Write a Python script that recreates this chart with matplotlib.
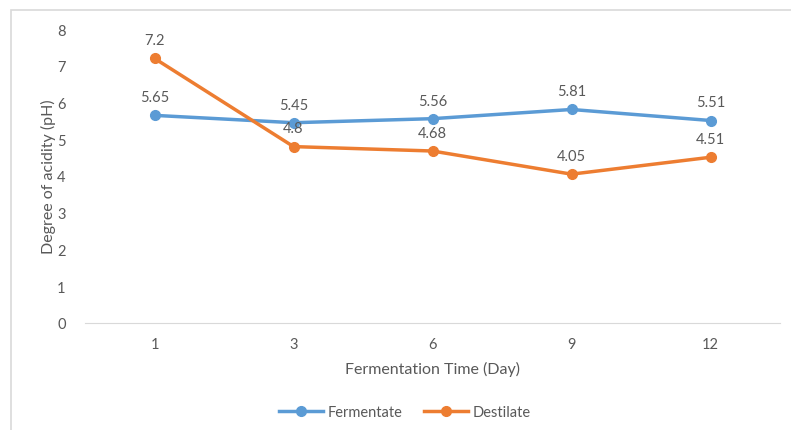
import matplotlib.pyplot as plt
from matplotlib.patches import Rectangle
from matplotlib.lines import Line2D

plt.rcParams['font.family'] = ['Lato', 'DejaVu Sans']

# Data
days = ['1', '3', '6', '9', '12']
fermentate = [5.65, 5.45, 5.56, 5.81, 5.51]
destilate = [7.2, 4.8, 4.68, 4.05, 4.51]

blue = '#5B9BD5'
orange = '#ED7D31'
text_col = '#595959'

fig = plt.figure(figsize=(7.91, 4.31), dpi=100)
ax = fig.add_axes([85 / 791, (431 - 324) / 431, 695 / 791, 294 / 431])

# chart frame (cropped on right and bottom)
fig.patches.append(Rectangle((11 / 791, -0.05), 1.2, (431 - 11) / 431 + 0.05,
                             transform=fig.transFigure, fill=False,
                             edgecolor='#D9D9D9', linewidth=1.2))

x = list(range(len(days)))
ax.plot(x, fermentate, color=blue, lw=2.5, marker='o', ms=7, label='Fermentate')
ax.plot(x, destilate, color=orange, lw=2.5, marker='o', ms=7, label='Destilate')

for xi, v in zip(x, fermentate):
    ax.annotate(f'{v:g}', (xi, v), xytext=(0, 8), textcoords='offset points',
                ha='center', va='bottom', fontsize=10.5, color=text_col)
for xi, v in zip(x, destilate):
    ax.annotate(f'{v:g}', (xi, v), xytext=(0, 8), textcoords='offset points',
                ha='center', va='bottom', fontsize=10.5, color=text_col)

ax.set_xlim(-0.5, len(days) - 0.5)
ax.set_ylim(0, 8)
ax.set_xticks(x)
ax.set_xticklabels(days)
ax.set_yticks(range(0, 9))
ax.tick_params(length=0, labelsize=10.5, colors=text_col, pad=10)
ax.tick_params(axis='y', pad=14)

for s in ['top', 'right', 'left']:
    ax.spines[s].set_visible(False)
ax.spines['bottom'].set_color('#D9D9D9')

ax.set_xlabel('Fermentation Time (Day)', fontsize=11.5, color=text_col, labelpad=7)
ax.set_ylabel('Degree of acidity (pH)', fontsize=11.5, color=text_col, labelpad=1)

handles = [Line2D([], [], color=blue, lw=2.5, marker='o', ms=7),
           Line2D([], [], color=orange, lw=2.5, marker='o', ms=7)]
fig.legend(handles, ['Fermentate', 'Destilate'], loc='center',
           bbox_to_anchor=(405 / 791, (431 - 413) / 431), ncol=2, frameon=False,
           fontsize=10.5, labelcolor=text_col, handlelength=3, columnspacing=1.5,
           handletextpad=0.3)

fig.savefig('out.png', dpi=100)
